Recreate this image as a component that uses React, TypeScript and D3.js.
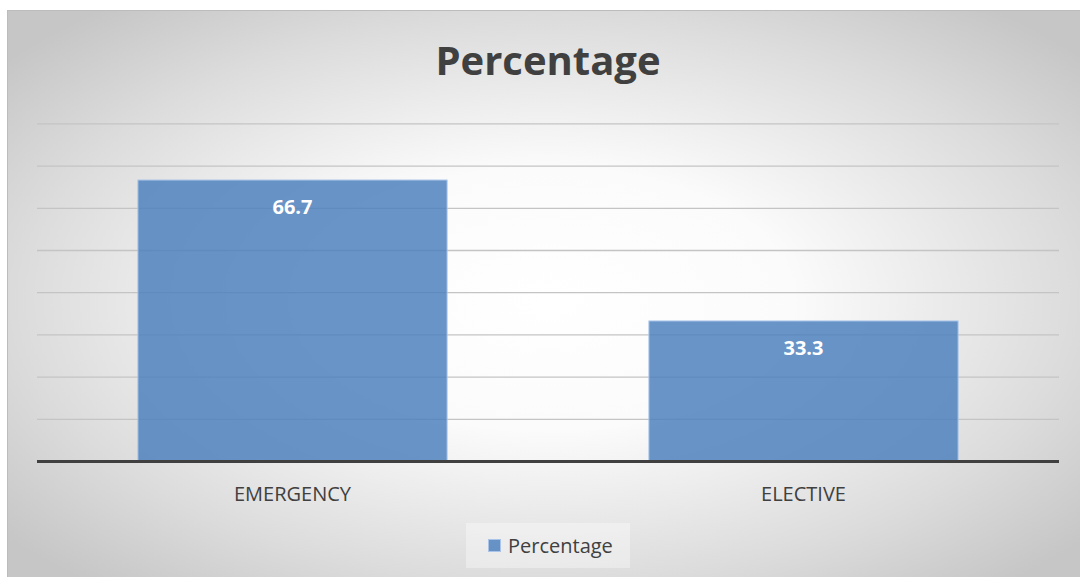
import React, { useEffect, useRef } from 'react'
import * as d3 from 'd3'

const categories = ['EMERGENCY', 'ELECTIVE']
const values = [66.7, 33.3]
const seriesName = 'Percentage'
const yTicks = [0, 10, 20, 30, 40, 50, 60, 70, 80]

export default function App() {
  const ref = useRef<SVGSVGElement | null>(null)

  useEffect(() => {
    if (!ref.current) return
    const svg = d3.select(ref.current)
    svg.selectAll('*').remove()
    const W = 1080, H = 577
    const font = '"Open Sans", sans-serif'

    const defs = svg.append('defs')
    const grad = defs.append('radialGradient').attr('id', 'bg')
      .attr('cx', '50%').attr('cy', '50%').attr('r', '65%')
    grad.append('stop').attr('offset', '0%').attr('stop-color', '#ffffff')
    grad.append('stop').attr('offset', '35%').attr('stop-color', '#fbfbfb')
    grad.append('stop').attr('offset', '75%').attr('stop-color', '#dcdcdc')
    grad.append('stop').attr('offset', '100%').attr('stop-color', '#c6c6c6')

    svg.append('rect').attr('width', W).attr('height', H).attr('fill', '#ffffff')
    svg.append('rect').attr('x', 7.5).attr('y', 10.5).attr('width', W).attr('height', H)
      .attr('fill', 'url(#bg)').attr('stroke', '#bcbcbc').attr('stroke-width', 1)

    const left = 37, right = 1059, top = 123.9, bottom = 461.5
    const x = d3.scaleBand().domain(categories).range([left, right])
      .paddingInner(0.395).paddingOuter(0.1975)
    const y = d3.scaleLinear().domain([0, 80]).range([bottom, top])

    // gridlines
    svg.append('g').selectAll('line').data(yTicks.filter(t => t > 0)).enter().append('line')
      .attr('x1', left).attr('x2', right)
      .attr('y1', d => y(d)).attr('y2', d => y(d))
      .attr('stroke', '#c4c4c4').attr('stroke-width', 1.3)

    // bars
    svg.append('g').selectAll('rect').data(values).enter().append('rect')
      .attr('x', (_, i) => x(categories[i])!)
      .attr('y', d => y(d))
      .attr('width', x.bandwidth())
      .attr('height', d => bottom - y(d))
      .attr('fill', '#4f81bd').attr('fill-opacity', 0.85)
      .attr('stroke', '#a9c4e8').attr('stroke-width', 1)

    // data labels
    svg.append('g').selectAll('text').data(values).enter().append('text')
      .attr('x', (_, i) => x(categories[i])! + x.bandwidth() / 2)
      .attr('y', d => y(d) + 34)
      .attr('text-anchor', 'middle')
      .attr('font-family', font).attr('font-weight', 700).attr('font-size', 20)
      .attr('fill', '#ffffff')
      .text(d => d.toFixed(1))

    // baseline
    svg.append('line').attr('x1', left).attr('x2', right)
      .attr('y1', bottom).attr('y2', bottom)
      .attr('stroke', '#404040').attr('stroke-width', 3)

    // category labels
    svg.append('g').selectAll('text').data(categories).enter().append('text')
      .attr('x', d => x(d)! + x.bandwidth() / 2)
      .attr('y', 501)
      .attr('text-anchor', 'middle')
      .attr('font-family', font).attr('font-size', 20)
      .attr('fill', '#404040')
      .text(d => d)

    // title
    svg.append('text').attr('x', 548).attr('y', 75)
      .attr('text-anchor', 'middle')
      .attr('font-family', font).attr('font-weight', 700).attr('font-size', 40)
      .attr('fill', '#404040')
      .text(seriesName)

    // legend
    const lg = svg.append('g')
    lg.append('rect').attr('x', 466).attr('y', 523).attr('width', 164).attr('height', 45)
      .attr('fill', '#ffffff').attr('fill-opacity', 0.35)
    lg.append('rect').attr('x', 488.5).attr('y', 539.5).attr('width', 12).attr('height', 12)
      .attr('fill', '#4f81bd').attr('fill-opacity', 0.85)
      .attr('stroke', '#a9c4e8').attr('stroke-width', 1)
    lg.append('text').attr('x', 508).attr('y', 553)
      .attr('font-family', font).attr('font-size', 20)
      .attr('fill', '#404040')
      .text(seriesName)
  }, [])

  return (
    <div style={{ position: 'fixed', left: 0, top: 0, width: 1080, height: 577 }}>
      <svg ref={ref} width={1080} height={577} style={{ display: 'block' }} />
    </div>
  )
}
